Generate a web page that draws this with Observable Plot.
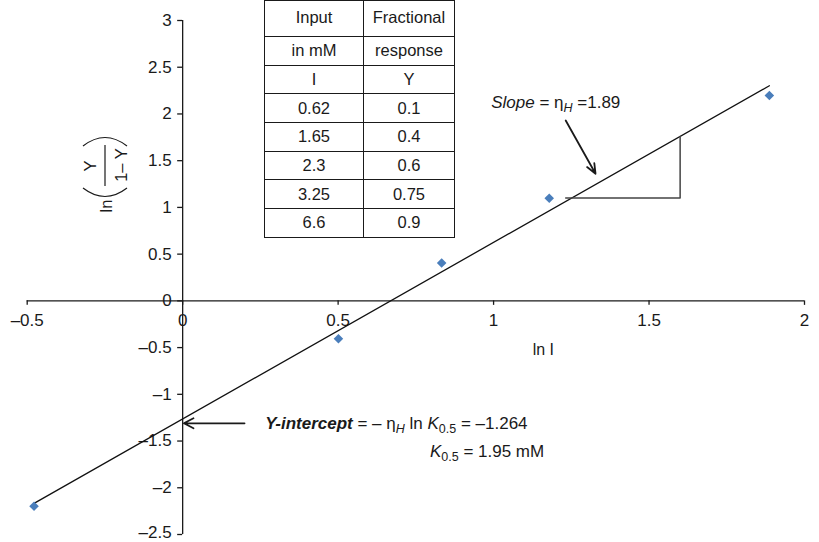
<!DOCTYPE html>
<html><head><meta charset="utf-8">
<script src="https://cdn.jsdelivr.net/npm/d3@7"></script>
<script src="https://cdn.jsdelivr.net/npm/@observablehq/plot@0.6"></script>
<style>
body{margin:0;background:#fff;}
#wrap{position:relative;width:819px;height:542px;font-family:"Liberation Sans",Arial,sans-serif;color:#1a1a1a;}
#tbl{position:absolute;left:264px;top:0px;border-collapse:collapse;font-size:16.5px;}
#tbl td{border:1px solid #1a1a1a;padding:0;text-align:center;vertical-align:middle;}
</style></head><body><div id="wrap"></div>
<script>
// data
const inputI = ["0.62", "1.65", "2.3", "3.25", "6.6"];
const respY = ["0.1", "0.4", "0.6", "0.75", "0.9"];
const lnI = [-0.478, 0.501, 0.833, 1.179, 1.887];
const lnRatio = [-2.197, -0.405, 0.405, 1.099, 2.197];
const fitX = [-0.478, 1.887];
const fitY = [-2.167, 2.302];
const triX = [1.232, 1.6, 1.6];
const triY = [1.1, 1.1, 1.76];
const xTicks = [-0.5, 0, 0.5, 1, 1.5, 2];
const yTicks = [-2.5, -2, -1.5, -1, -0.5, 0, 0.5, 1, 1.5, 2, 2.5, 3];

const fmt = d => (d < 0 ? "\u2013" : "") + Math.abs(d);
const points = lnI.map((x, i) => ({x, y: lnRatio[i]}));
const fit = fitX.map((x, i) => ({x, y: fitY[i]}));
const tri = triX.map((x, i) => ({x, y: triY[i]}));
const ink = "#1a1a1a";

const plot = Plot.plot({
  width: 819, height: 542,
  marginLeft: 26.7, marginRight: 15, marginTop: 20, marginBottom: 8,
  x: {domain: [-0.5, 2], axis: null},
  y: {domain: [-2.5, 3], axis: null},
  style: {fontFamily: "'Liberation Sans', Arial, sans-serif", fontSize: "17px", background: "white", color: ink},
  marks: [
    Plot.ruleY([0], {x1: -0.5, x2: 2, stroke: ink, strokeWidth: 1.3}),
    Plot.ruleX([0], {y1: -2.5, y2: 3, stroke: ink, strokeWidth: 1.3}),
    Plot.ruleX(xTicks, {x: d => d, y1: 0, y2: -4.5 / 93.45, stroke: ink, strokeWidth: 1.3}),
    Plot.ruleY(yTicks, {y: d => d, x1: -5 / 310.9, x2: 0, stroke: ink, strokeWidth: 1.3}),
    Plot.text(xTicks, {x: d => d, y: 0, text: fmt, dy: 19.5, fill: ink}),
    Plot.text(yTicks.filter(d => d > -2.5), {x: 0, y: d => d, text: fmt, textAnchor: "end", dx: -11, fill: ink}),
    Plot.text(yTicks.filter(d => d === -2.5), {x: 0, y: d => d, text: fmt, textAnchor: "end", dx: -11, dy: -1.5, fill: ink}),
    Plot.text(["ln I"], {x: 1.16, y: 0, text: d => d, dy: 49, fill: ink, fontSize: 16}),
    Plot.line(fit, {x: "x", y: "y", stroke: "#111", strokeWidth: 1.3}),
    Plot.line(tri, {x: "x", y: "y", stroke: "#444", strokeWidth: 1.5}),
    Plot.dot(points, {x: "x", y: "y", symbol: "diamond2", r: 4.3, fill: "#4a7ebb", stroke: "none"}),
    Plot.arrow([{x1: 1.232, y1: 1.93, x2: 1.328, y2: 1.36}], {x1: "x1", y1: "y1", x2: "x2", y2: "y2", stroke: ink, strokeWidth: 1.8, headLength: 9, headAngle: 45}),
    Plot.arrow([{x1: 0.199, y1: -1.31, x2: 0.004, y2: -1.31}], {x1: "x1", y1: "y1", x2: "x2", y2: "y2", stroke: ink, strokeWidth: 1.8, headLength: 9, headAngle: 55})
  ]
});

const wrap = document.getElementById("wrap");
wrap.appendChild(plot);
const sx = plot.scale("x"), sy = plot.scale("y");
const svg = d3.select(plot);
const ff = "'Liberation Sans', Arial, sans-serif";

// Y axis label: ln( Y / (1- Y) )
const g = svg.append("g").attr("transform", `translate(105,166) rotate(-90)`)
  .attr("fill", ink).attr("font-family", ff).attr("font-size", 16.5).attr("text-anchor", "middle");
g.append("text").attr("x", -40).attr("y", 6.5).text("ln");
g.append("path").attr("d", "M-22,-22 Q-39,0 -22,22").attr("fill", "none").attr("stroke", ink).attr("stroke-width", 1.2);
g.append("path").attr("d", "M20,-22 Q37,0 20,22").attr("fill", "none").attr("stroke", ink).attr("stroke-width", 1.2);
g.append("text").attr("x", 0).attr("y", -9.5).text("Y");
g.append("line").attr("x1", -20).attr("x2", 21).attr("y1", 0).attr("y2", 0).attr("stroke", ink).attr("stroke-width", 1.2);
g.append("text").attr("x", 1).attr("y", 21.5).text("1\u2013 Y");

// annotations
function sub(t, s, italicSub) {
  t.append("tspan").attr("dy", 4).attr("font-size", 12.5).attr("font-style", italicSub ? "italic" : null).text(s);
}
function label(x, y) {
  return svg.append("text").attr("x", sx.apply(x)).attr("y", sy.apply(y))
    .attr("fill", ink).attr("font-family", ff).attr("font-size", 17).attr("text-anchor", "start");
}
const a1 = label(0.994, 2.055);
a1.append("tspan").attr("font-style", "italic").text("Slope");
a1.append("tspan").text(" = \u03b7");
sub(a1, "H", true);
a1.append("tspan").attr("dy", -4).text(" =1.89");

const a2 = label(0.267, -1.375);
a2.append("tspan").attr("font-style", "italic").attr("font-weight", "bold").text("Y-intercept");
a2.append("tspan").text(" = \u2013 \u03b7");
sub(a2, "H", true);
a2.append("tspan").attr("dy", -4).text(" ln ");
a2.append("tspan").attr("font-style", "italic").text("K");
sub(a2, "0.5", false);
a2.append("tspan").attr("dy", -4).text(" = \u20131.264");

const a3 = label(0.797, -1.675);
a3.append("tspan").attr("font-style", "italic").text("K");
sub(a3, "0.5", false);
a3.append("tspan").attr("dy", -4).text(" = 1.95 mM");

// data table
const tbl = document.createElement("table");
tbl.id = "tbl";
const header = [["Input", "Fractional"], ["in mM", "response"], ["I", "Y"]];
const rows = header.concat(inputI.map((v, i) => [v, respY[i]]));
rows.forEach((r, i) => {
  const tr = document.createElement("tr");
  tr.style.height = (i === 0 ? 36 : 28.7) + "px";
  r.forEach((c, j) => {
    const td = document.createElement("td");
    td.style.width = (j === 0 ? 98 : 90) + "px";
    if (i === 0) td.style.paddingBottom = "3px";
    td.textContent = c;
    tr.appendChild(td);
  });
  tbl.appendChild(tr);
});
wrap.appendChild(tbl);
</script></body></html>
